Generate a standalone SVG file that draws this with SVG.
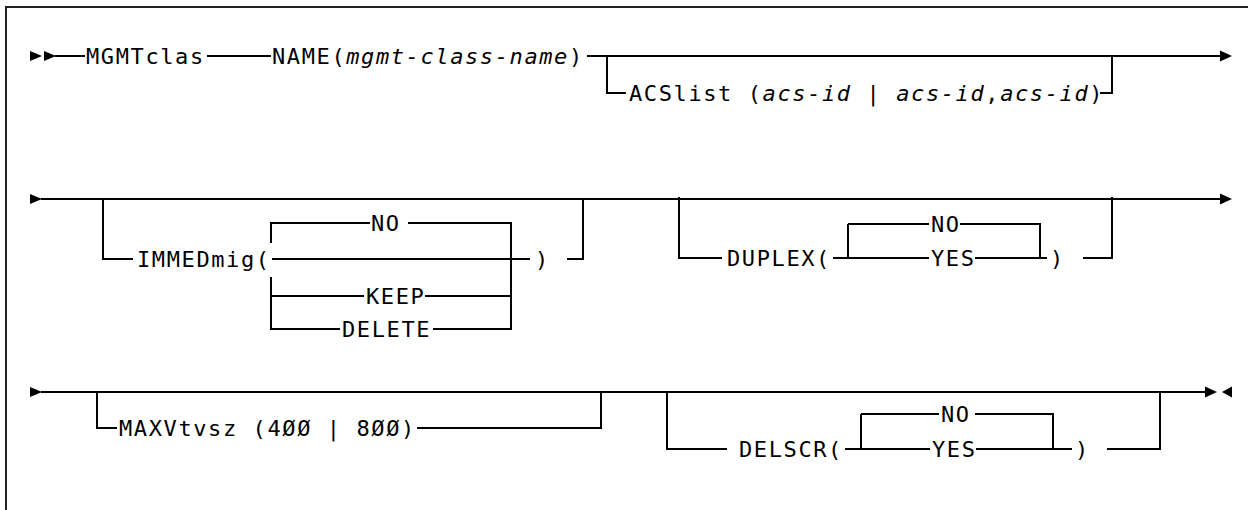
<svg xmlns="http://www.w3.org/2000/svg" width="1248" height="510" viewBox="0 0 1248 510">
<style>
.t{font-family:"DejaVu Sans Mono","Liberation Mono",monospace;font-size:22px;letter-spacing:1.6px;fill:#000}
.i{font-style:italic}
.c{stroke:#000;stroke-width:2;fill:none}
.a{fill:#000}
.b{stroke:#222;stroke-width:2;fill:none}
</style>
<rect width="1248" height="510" fill="#fff"/>
<path class="b" d="M6,510 V7 H1248"/>
<g id="connectors">
<!-- row 1 -->
<polygon class="a" points="30,51 42,56 30,61"/>
<polygon class="a" points="44,51 56,56 44,61"/>
<path class="c" d="M55,56 H85 M207,56 H271 M587,56 H1221"/>
<polygon class="a" points="1220,50.5 1232,56 1220,61.5"/>
<path class="c" d="M607,56 V93 H626 M1100,93 H1112 V56"/>
<!-- row 2 -->
<polygon class="a" points="30,194 42,199 30,204"/>
<path class="c" d="M41,199 H1221"/>
<polygon class="a" points="1220,193.5 1232,199 1220,204.5"/>
<path class="c" d="M103,199 V259 H133"/>
<path class="c" d="M271,243 V223 H370 M408,223 H511 V329 H433 M271,277 V329 H340 M271,296 H364 M425,296 H511 M272,259 H530 M567,259 H583 V199"/>
<path class="c" d="M679,197 V258 H722 M833,258 H929 M848,224 V258 M848,224 H929 M960,224 H1040 V258 M975,258 H1047 M1083,258 H1112 V197"/>
<!-- row 3 -->
<polygon class="a" points="30,387 42,392 30,397"/>
<path class="c" d="M41,392 H1206"/>
<polygon class="a" points="1205,386.5 1217,392 1205,397.5"/>
<polygon class="a" points="1232,386.5 1222,392 1232,397.5"/>
<path class="c" d="M97,392 V428 H117 M417,428 H601 V392"/>
<path class="c" d="M667,392 V449 H727 M845,449 H930 M861,414 V449 M861,414 H939 M975,414 H1053 V449 M976,449 H1072 M1107,449 H1160 V392"/>
</g>
<g id="n-mgmtclas"><text class="t" x="86" y="63.5">MGMTclas</text></g>
<g id="n-name"><text class="t" x="272" y="63.5">NAME(<tspan class="i">mgmt-class-name</tspan>)</text></g>
<g id="n-acslist"><text class="t" x="629" y="101">ACSlist (<tspan class="i">acs-id</tspan> | <tspan class="i">acs-id</tspan>,<tspan class="i">acs-id</tspan>)</text></g>
<g id="n-immedmig"><text class="t" x="137" y="267">IMMEDmig(</text></g>
<g id="n-immed-no"><text class="t" x="371" y="231">NO</text></g>
<g id="n-immed-keep"><text class="t" x="366" y="304">KEEP</text></g>
<g id="n-immed-delete"><text class="t" x="342" y="337">DELETE</text></g>
<g id="n-immed-close"><text class="t" x="535" y="267">)</text></g>
<g id="n-duplex"><text class="t" x="727" y="266">DUPLEX(</text></g>
<g id="n-duplex-no"><text class="t" x="931" y="232">NO</text></g>
<g id="n-duplex-yes"><text class="t" x="931" y="266">YES</text></g>
<g id="n-duplex-close"><text class="t" x="1050" y="266">)</text></g>
<g id="n-maxvtvsz"><text class="t" x="119" y="436">MAXVtvsz (4ØØ | 8ØØ)</text></g>
<g id="n-delscr"><text class="t" x="739" y="457">DELSCR(</text></g>
<g id="n-delscr-no"><text class="t" x="941" y="422">NO</text></g>
<g id="n-delscr-yes"><text class="t" x="932" y="457">YES</text></g>
<g id="n-delscr-close"><text class="t" x="1075" y="457">)</text></g>
</svg>
